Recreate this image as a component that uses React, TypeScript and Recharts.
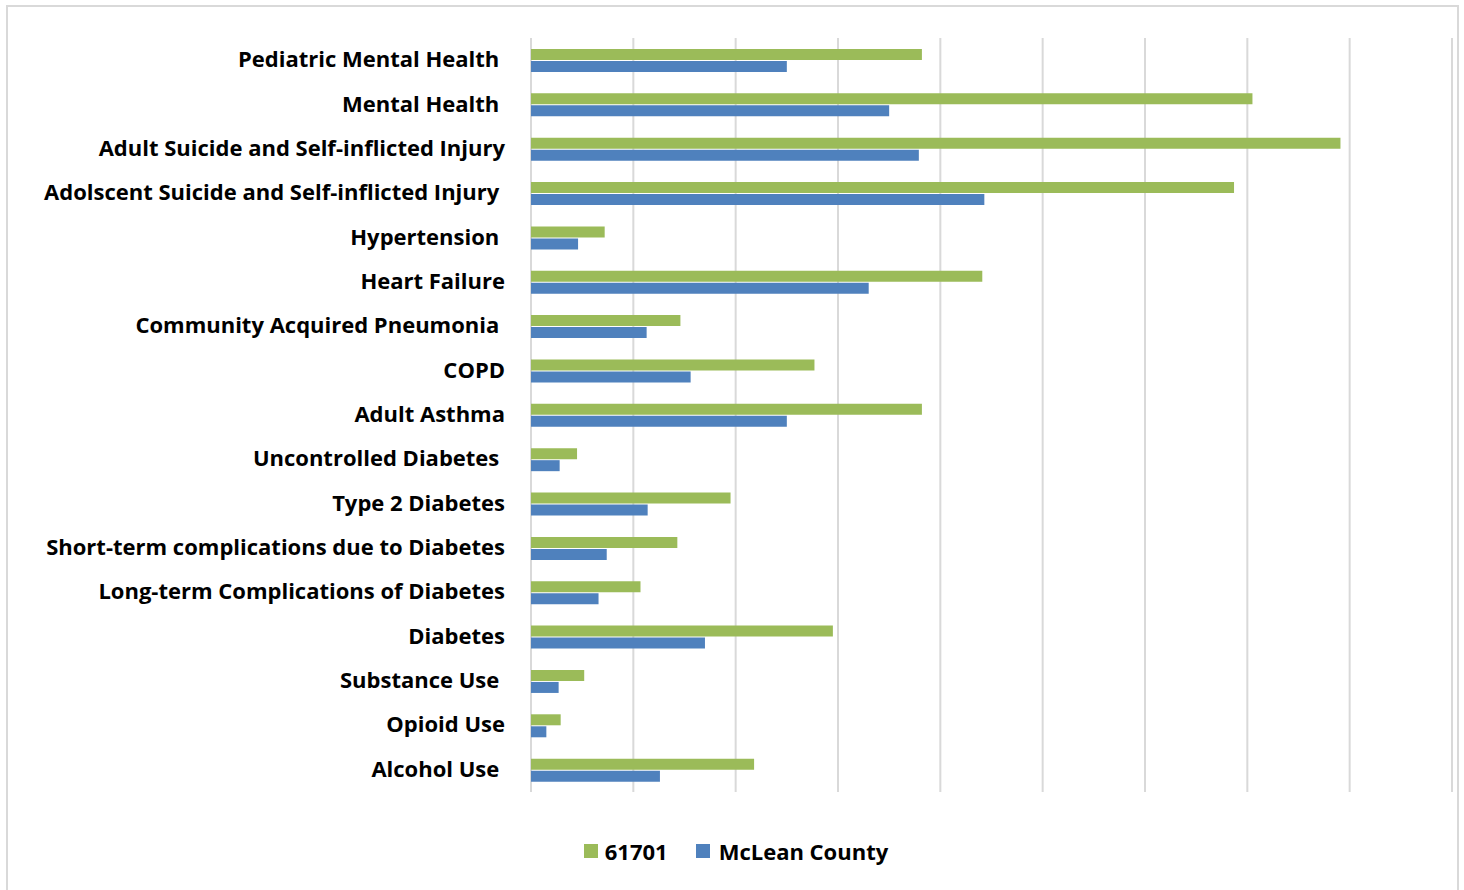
import React from 'react';
import { BarChart, Bar, XAxis, YAxis, CartesianGrid, Legend } from 'recharts';

// categories, top to bottom (trailing space kept where the source label had one)
const categories = [
  'Pediatric Mental Health ',
  'Mental Health ',
  'Adult Suicide and Self-inflicted Injury',
  'Adolscent Suicide and Self-inflicted Injury ',
  'Hypertension ',
  'Heart Failure',
  'Community Acquired Pneumonia ',
  'COPD',
  'Adult Asthma',
  'Uncontrolled Diabetes ',
  'Type 2 Diabetes',
  'Short-term complications due to Diabetes',
  'Long-term Complications of Diabetes',
  'Diabetes',
  'Substance Use ',
  'Opioid Use',
  'Alcohol Use ',
];

const zip61701 = [3.82, 7.05, 7.91, 6.87, 0.72, 4.41, 1.46, 2.77, 3.82, 0.45, 1.95, 1.43, 1.07, 2.95, 0.52, 0.29, 2.18];
const mcleanCounty = [2.5, 3.5, 3.79, 4.43, 0.46, 3.3, 1.13, 1.56, 2.5, 0.28, 1.14, 0.74, 0.66, 1.7, 0.27, 0.15, 1.26];

const gridTicks = [0, 1, 2, 3, 4, 5, 6, 7, 8, 9];

const GREEN = '#9bbb59';
const BLUE = '#4f81bd';
const FONT = '"Open Sans", Lato, sans-serif';

const data = categories.map((name, i) => ({
  name,
  zip: zip61701[i],
  county: mcleanCounty[i],
}));

const CategoryTick = (props: any) => {
  const { x, y, payload } = props;
  return (
    <text
      x={x - 20}
      y={y}
      dy={7}
      textAnchor="end"
      fill="#000"
      fontFamily={FONT}
      fontWeight="bold"
      fontSize={22}
      style={{ whiteSpace: 'pre' }}
    >
      {payload.value}
    </text>
  );
};

const NoTick = () => <g />;

const LegendContent = () => (
  <div style={{ display: 'flex', justifyContent: 'center', alignItems: 'center', fontFamily: FONT, fontWeight: 'bold', fontSize: 22, color: '#000' }}>
    <span style={{ display: 'inline-block', width: 14, height: 14, background: GREEN, marginRight: 7 }} />
    <span style={{ marginRight: 28 }}>61701</span>
    <span style={{ display: 'inline-block', width: 14, height: 14, background: BLUE, marginRight: 9 }} />
    <span>McLean County</span>
  </div>
);

export default function App() {
  return (
    <div style={{ position: 'absolute', left: 0, top: 0, width: 1464, height: 890, background: '#fff', overflow: 'hidden' }}>
      <div style={{ position: 'absolute', left: 6, top: 5, width: 1449, height: 900, border: '2px solid #d9d9d9' }} />
      <div style={{ position: 'absolute', left: 0, top: 0 }}>
        <BarChart
          width={1464}
          height={890}
          data={data}
          layout="vertical"
          margin={{ top: 38, right: 12, bottom: 68, left: 0 }}
          barSize={11}
          barGap={1}
        >
          <CartesianGrid horizontal={false} stroke="#d9d9d9" strokeWidth={2} />
          <XAxis
            type="number"
            domain={[0, 9]}
            ticks={gridTicks}
            interval={0}
            tick={<NoTick />}
            axisLine={false}
            tickLine={false}
            height={30}
          />
          <YAxis
            type="category"
            dataKey="name"
            width={531}
            axisLine={false}
            tickLine={false}
            tickMargin={0}
            tick={<CategoryTick />}
          />
          <Legend
            layout="horizontal"
            verticalAlign="middle"
            align="center"
            content={<LegendContent />}
            wrapperStyle={{ top: 836, left: 4, width: 1464 }}
          />
          <Bar dataKey="zip" name="61701" fill={GREEN} isAnimationActive={false} />
          <Bar dataKey="county" name="McLean County" fill={BLUE} isAnimationActive={false} />
        </BarChart>
      </div>
    </div>
  );
}
